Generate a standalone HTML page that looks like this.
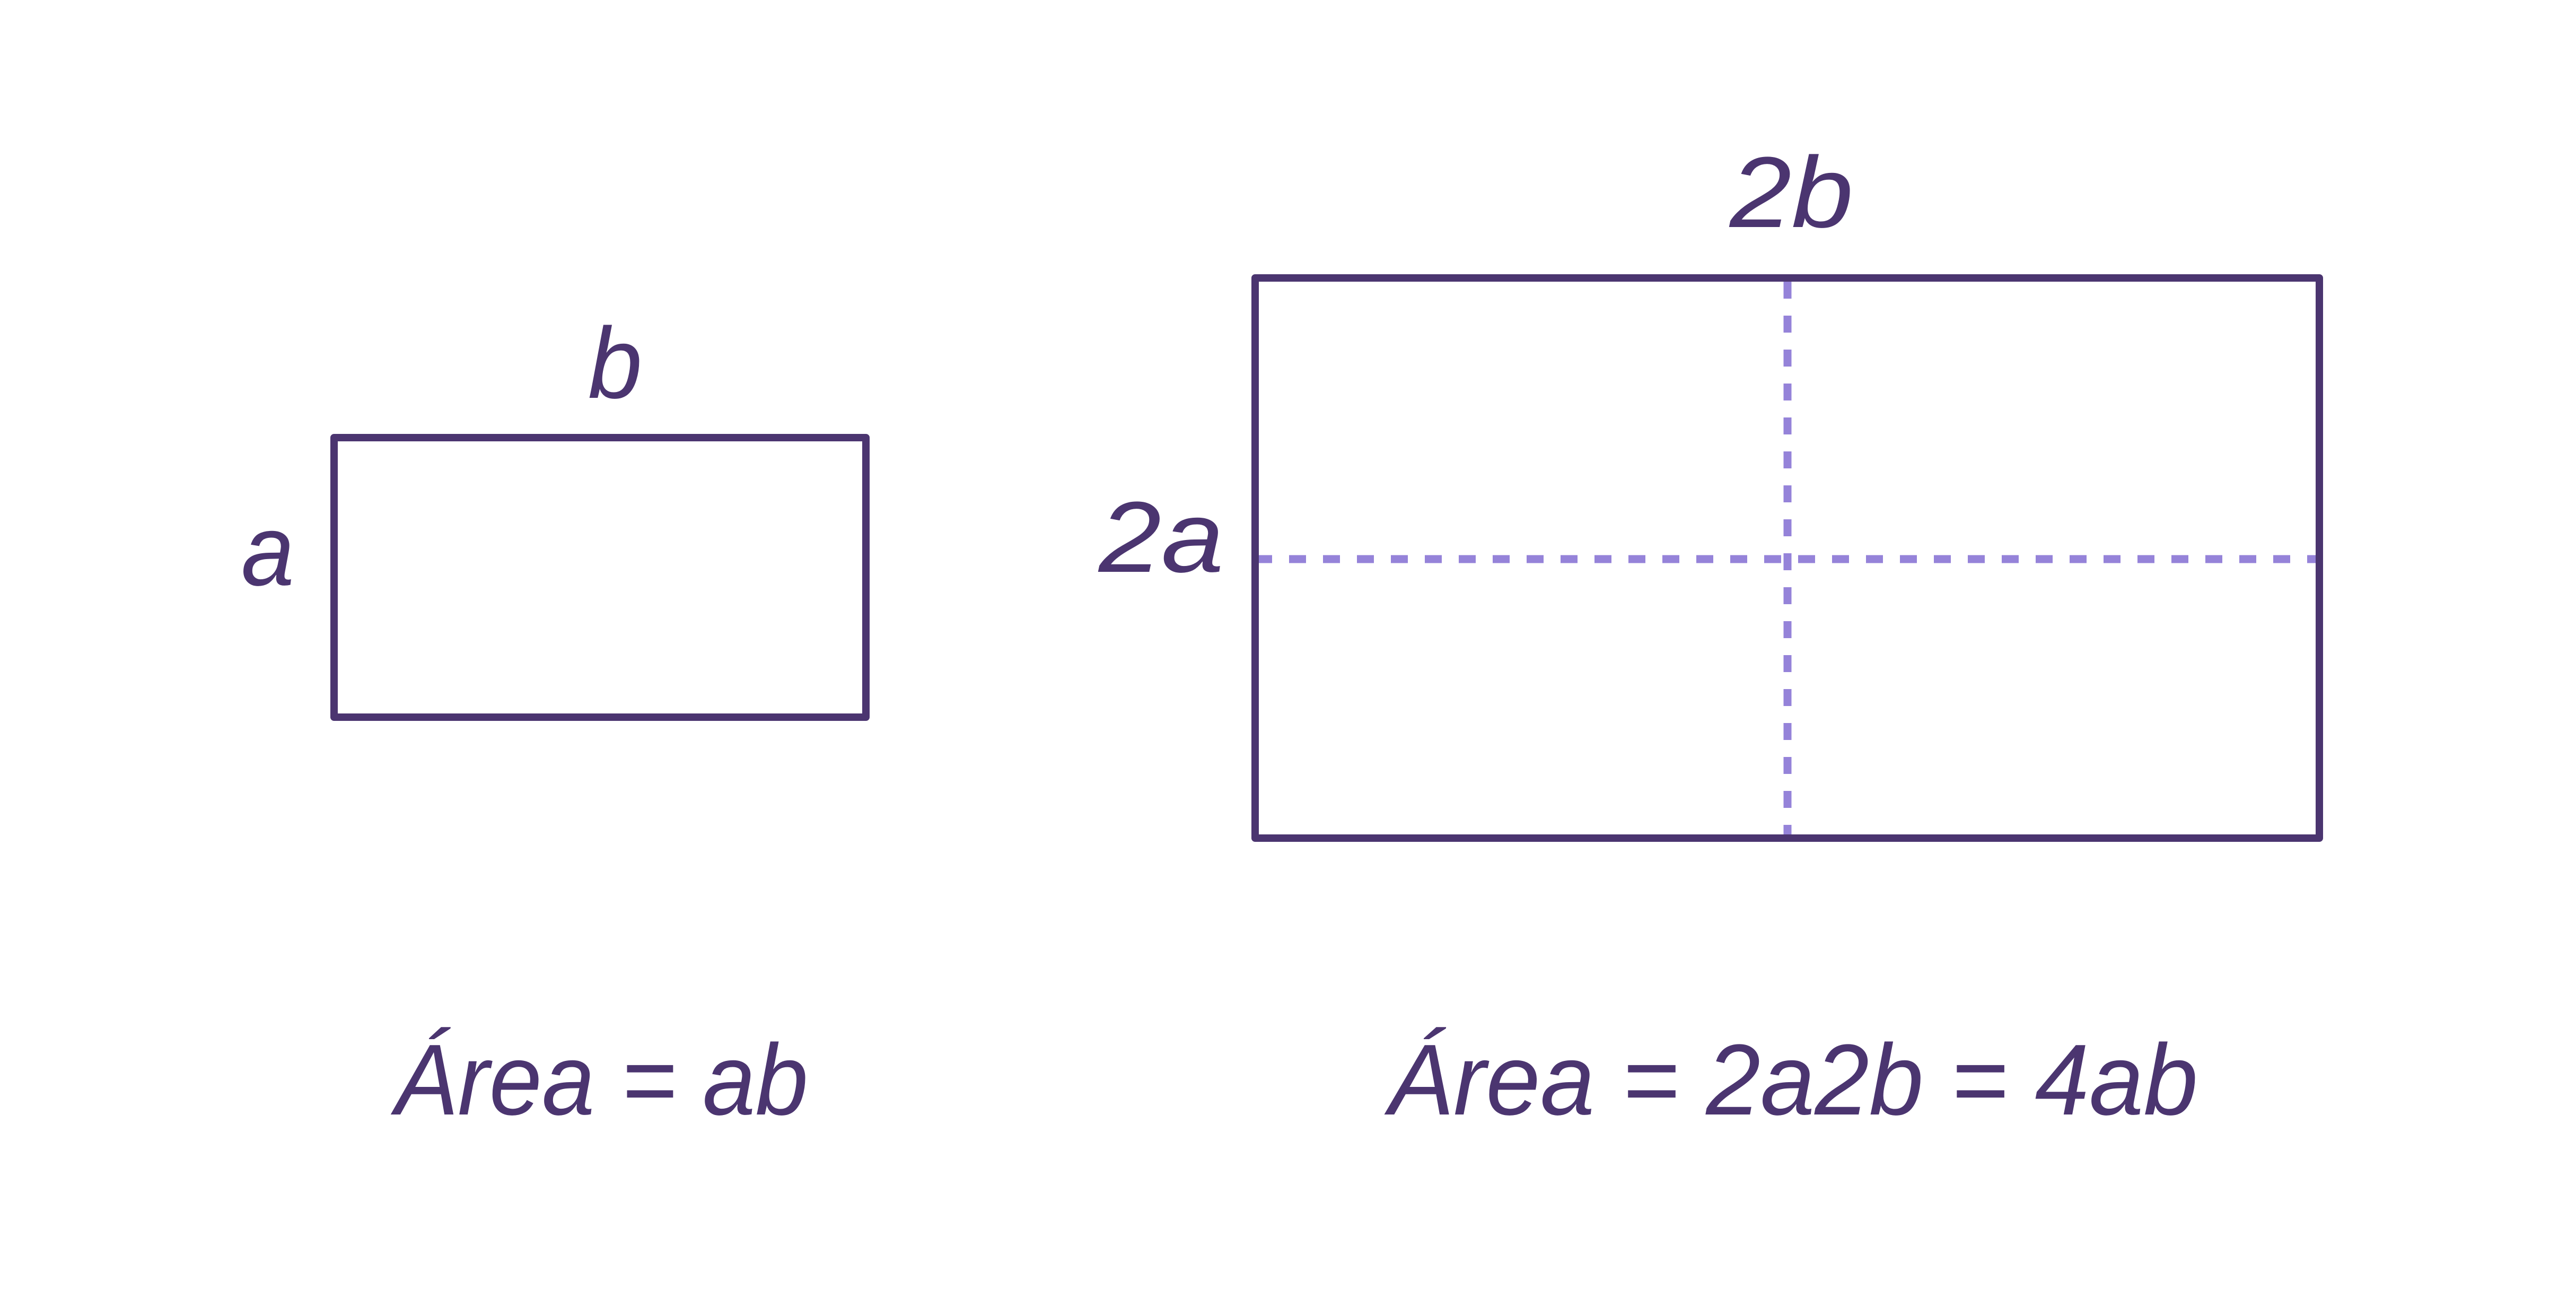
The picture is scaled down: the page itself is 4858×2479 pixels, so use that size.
<!DOCTYPE html>
<html><head><meta charset="utf-8"><style>html,body{margin:0;padding:0;background:#fff}svg{display:block}</style></head>
<body>
<svg width="4858" height="2479" viewBox="0 0 4858 2479" xmlns="http://www.w3.org/2000/svg">
<rect width="4858" height="2479" fill="#fff"/>
<g font-family="Liberation Sans, sans-serif" font-style="italic" fill="#4b3570" font-size="190">
<rect x="630" y="825" width="1003" height="527" fill="none" stroke="#4b3570" stroke-width="14" stroke-linejoin="round"/>
<line x1="2367" y1="1054" x2="4374" y2="1054" stroke="#9583d9" stroke-width="15" stroke-dasharray="32 32"/>
<line x1="3371" y1="531" x2="3371" y2="1580" stroke="#9583d9" stroke-width="15" stroke-dasharray="32 32"/>
<rect x="2367" y="524" width="2007" height="1056" fill="none" stroke="#4b3570" stroke-width="14" stroke-linejoin="round"/>
<text x="1109" y="750" textLength="102" lengthAdjust="spacingAndGlyphs">b</text>
<text x="455" y="1103" textLength="100" lengthAdjust="spacingAndGlyphs">a</text>
<text x="3262" y="428" textLength="233" lengthAdjust="spacingAndGlyphs">2b</text>
<text x="2072" y="1078" textLength="236" lengthAdjust="spacingAndGlyphs">2a</text>
<text x="744" y="2101" textLength="780" lengthAdjust="spacingAndGlyphs">Área = ab</text>
<text x="2618" y="2101" textLength="1527" lengthAdjust="spacingAndGlyphs">Área = 2a2b = 4ab</text>
</g>
</svg>
</body></html>
